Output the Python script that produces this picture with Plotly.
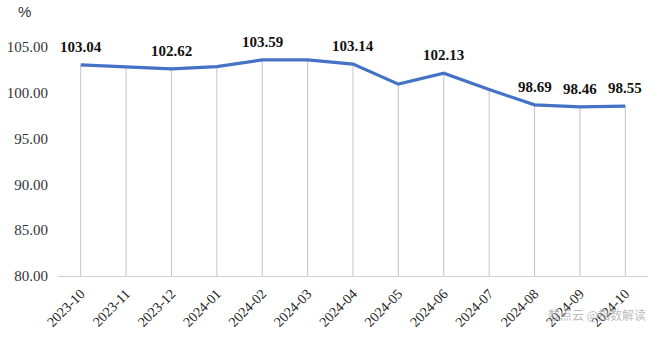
import plotly.graph_objects as go

months = ["2023-10", "2023-11", "2023-12", "2024-01", "2024-02", "2024-03", "2024-04",
          "2024-05", "2024-06", "2024-07", "2024-08", "2024-09", "2024-10"]
values = [103.04, 102.80, 102.62, 102.85, 103.59, 103.59, 103.14,
          100.95, 102.13, 100.35, 98.69, 98.46, 98.55]
labels = ["103.04", "", "102.62", "", "103.59", "", "103.14",
          "", "102.13", "", "98.69", "98.46", "98.55"]
y_ticks = [80, 85, 90, 95, 100, 105]
y_min = 80

SERIF = "Liberation Serif, Times New Roman, serif"

fig = go.Figure()
fig.add_trace(go.Scatter(
    x=months, y=values, mode="lines",
    line=dict(color="#4472C4", width=3.2),
    error_y=dict(type="data", symmetric=False, array=[0] * len(values),
                 arrayminus=[v - y_min for v in values],
                 color="#c0c4ca", thickness=1, width=0),
    hoverinfo="skip",
))

for m, v, t in zip(months, values, labels):
    if t:
        fig.add_annotation(x=m, y=v, text=f"<b>{t}</b>", showarrow=False,
                           yshift=18, font=dict(family=SERIF, size=15, color="#111"))

fig.add_annotation(xref="paper", yref="paper", x=-0.072, y=1.2, text="%", showarrow=False,
                   xanchor="left", font=dict(family="Liberation Sans", size=15, color="#333"))
fig.add_annotation(xref="paper", yref="paper", x=1.0, y=-0.215, text="数点云 @指数解读",
                   showarrow=False, xanchor="right",
                   font=dict(family="Noto Sans CJK SC", size=12, color="rgba(170,170,170,0.8)"))

fig.update_layout(
    width=660, height=339,
    margin=dict(l=58, r=12, t=47, b=63, autoexpand=False),
    paper_bgcolor="white", plot_bgcolor="white",
    showlegend=False,
    xaxis=dict(type="category", range=[-0.5, len(months) - 0.5], showgrid=False,
               automargin=False,
               showline=True, linecolor="#d0d0d0", linewidth=1,
               ticks="outside", ticklen=3, tickcolor="rgba(0,0,0,0)",
               tickangle=-45, tickfont=dict(family=SERIF, size=14, color="#222")),
    yaxis=dict(range=[80, 105], tickvals=y_ticks, ticktext=[f"{t:.2f}" for t in y_ticks],
               automargin=False,
               showgrid=False, zeroline=False, showline=False,
               ticks="outside", ticklen=6, tickcolor="rgba(0,0,0,0)",
               tickfont=dict(family=SERIF, size=15, color="#333")),
)

fig.write_html("out.html")
